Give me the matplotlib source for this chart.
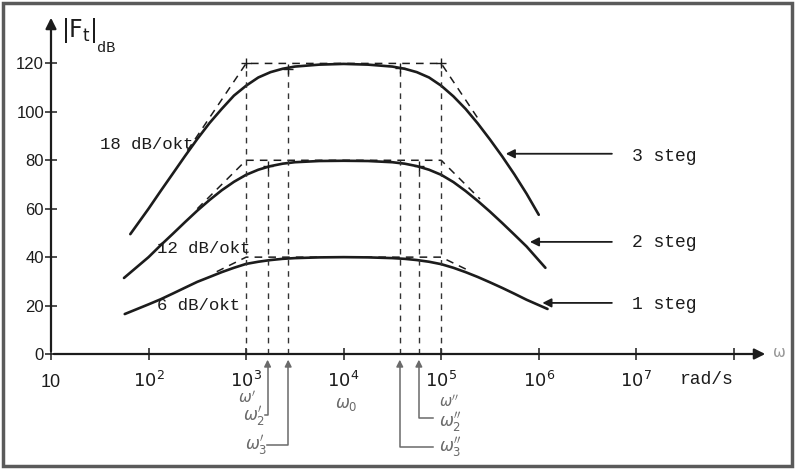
import matplotlib
matplotlib.use("Agg")
import matplotlib.pyplot as plt
from matplotlib.patches import Rectangle
from matplotlib.ticker import NullLocator

plt.rcParams['mathtext.fontset'] = 'dejavusans'

# --- data (omega in rad/s, |F_t| in dB) ---
w_mid = [100, 133, 178, 237, 316, 422, 562, 750, 1000, 1334, 1780, 2371, 3160, 5620, 1e4,
         1.78e4, 3.16e4, 4.217e4, 5.62e4, 7.5e4, 1e5, 1.334e5, 1.78e5, 2.371e5, 3.16e5,
         4.22e5, 5.62e5, 7.5e5]
w3 = [65] + w_mid + [1e6]
db3 = [49.5, 60, 67.3, 74.6, 81.8, 88.8, 95.4, 101.2, 106.7, 110.8, 114.2, 116.4, 117.8, 118.7,
       119.5, 119.8, 119.5, 118.7, 117.8, 116.4, 114.2, 110.8, 106.4, 101.2, 95.2, 88.6, 81.6,
       74.2, 66.2, 57.5]
w2 = [56] + w_mid + [1.17e6]
db2 = [31.4, 40, 44.9, 49.7, 54.5, 59.2, 63.6, 67.6, 71.1, 74, 76.1, 77.6, 78.6, 79.2, 79.7,
       79.8, 79.7, 79.2, 78.6, 77.6, 76.1, 74, 71, 67.3, 63.2, 58.8, 54.1, 49.3, 44.4, 35.6]
w1 = [57] + w_mid + [1.23e6]
db1 = [16.5, 20.5, 22.6, 25, 27.4, 29.8, 31.8, 33.8, 35.6, 37.2, 38.1, 38.8, 39.3, 39.6, 39.9,
       40, 39.9, 39.6, 39.3, 38.8, 38.1, 37.1, 35.6, 33.8, 31.8, 29.6, 27.3, 24.9, 22.4, 18.6]

# asymptotes (dashed)
asy_w3 = [250, 1e3, 1e5, 2.5e5]
asy_db3 = [84, 120, 120, 96]
asy_w2 = [316, 1e3, 1e5, 2.5e5]
asy_db2 = [60, 80, 80, 64]
asy_w1 = [500, 1e3, 1e5, 1.8e5]
asy_db1 = [34, 40, 40, 35]

# vertical dashed guides: omega', omega'_2, omega'_3, omega''_3, omega''_2, omega''
guide_w = [1e3, 1660, 2700, 3.76e4, 5.9e4, 1e5]
guide_top = [120, 77.5, 117.5, 118, 77.5, 120]

x_ticks = [10, 1e2, 1e3, 1e4, 1e5, 1e6, 1e7, 1e8]
x_labels = ['10', '$10^{2}$', '$10^{3}$', '$10^{4}$', '$10^{5}$', '$10^{6}$', '$10^{7}$', '']
y_ticks = [0, 20, 40, 60, 80, 100, 120]

slope_labels = ['18 dB/okt', '12 dB/okt', '6 dB/okt']
slope_pos = [(32, 86.5), (122, 43.5), (122, 20)]

steg_labels = ['3 steg', '2 steg', '1 steg']
steg_y = [81.5, 46, 20.5]
steg_head_w = [4.3e5, 7.6e5, 1.02e6]
steg_head_db = [82.7, 46.3, 21.1]

INK = '#1c1c1c'
GREY = '#6a6a6a'

fig = plt.figure(figsize=(8, 4.69), dpi=100, facecolor='white')
ax = fig.add_axes([51 / 800, 115 / 469, 717 / 800, 339 / 469])
ax.set_xscale('log')
ax.set_xlim(10, 10 ** 8.35)
ax.set_ylim(0, 140)
for s in ax.spines.values():
    s.set_visible(False)

# axes with arrows
ax.annotate('', xy=(1, 0), xytext=(0, 0), xycoords='axes fraction',
            arrowprops=dict(arrowstyle='-|>', color=INK, lw=1.6, mutation_scale=16))
ax.annotate('', xy=(0, 1), xytext=(0, 0), xycoords='axes fraction',
            arrowprops=dict(arrowstyle='-|>', color=INK, lw=1.6, mutation_scale=16))

ax.set_xticks(x_ticks)
ax.set_xticklabels([''] * len(x_ticks))
ax.xaxis.set_minor_locator(NullLocator())
ax.set_yticks(y_ticks)
ax.set_yticklabels([str(v) for v in y_ticks], fontsize=12, family='Liberation Sans', color=INK)
ax.tick_params(direction='inout', length=8, width=1.1, color=INK, pad=1)

# x tick labels drawn by hand (baseline aligned like the typed originals)
for w, lab in zip(x_ticks, x_labels):
    if lab:
        ax.text(w, -13.5, lab, ha='center', va='baseline', fontsize=13,
                family='Liberation Sans', color=INK, clip_on=False)

# curves
for w, db in [(w3, db3), (w2, db2), (w1, db1)]:
    ax.plot(w, db, color=INK, lw=1.9, solid_capstyle='round', solid_joinstyle='round')
for w, db in [(asy_w3, asy_db3), (asy_w2, asy_db2), (asy_w1, asy_db1)]:
    ax.plot(w, db, color=INK, lw=1.1, dashes=(5, 4))
for w, top in zip(guide_w, guide_top):
    ax.plot([w, w], [0, top], color='#333333', lw=1.0, dashes=(4, 4))
    ax.plot([w], [top], marker='+', ms=7, mew=1.0, color=INK)

# slope labels
for lab, (w, db) in zip(slope_labels, slope_pos):
    ax.text(w, db, lab, ha='left', va='center', fontsize=12.5, family='Liberation Mono', color=INK)

# stage labels with arrows
for lab, y, hw, hdb in zip(steg_labels, steg_y, steg_head_w, steg_head_db):
    ax.text(9.1e6, y, lab, ha='left', va='center', fontsize=13, family='Liberation Mono', color=INK)
    ax.annotate('', xy=(hw, hdb), xytext=(6.0e6, hdb),
                arrowprops=dict(arrowstyle='-|>', color=INK, lw=1.3, mutation_scale=13))

# axis titles
fig.text(61 / 800, 1 - 30 / 469, '|F$_{\\mathrm{t}}$|', fontsize=17, family='DejaVu Sans',
         color=INK, va='center')
fig.text(97 / 800, 1 - 48 / 469, 'dB', fontsize=11, family='Liberation Mono', color=INK, va='center')
ax.text(10 ** 7.72, -10.5, 'rad/s', ha='center', va='center', fontsize=13,
        family='Liberation Mono', color=INK, clip_on=False)
ax.text(10 ** 8.47, 0.5, '\u03c9', ha='center', va='center', fontsize=11, color='#999999', clip_on=False)

# frequency markers below the axis
mk = dict(color=GREY, lw=1.1, clip_on=False)
arr = dict(arrowstyle='-|>', color=GREY, lw=1.1, mutation_scale=10)
ax.text(1020, -18.0, "$\\omega'$", ha='center', va='center', fontsize=11, color=GREY, clip_on=False)
ax.text(1.2e5, -19.5, "$\\omega''$", ha='center', va='center', fontsize=10.5, color=GREY, clip_on=False)
ax.text(10 ** 4.03, -20.5, '$\\omega_{0}$', ha='center', va='center', fontsize=12, color=GREY, clip_on=False)

ax.text(1560, -25.5, "$\\omega_{2}'$", ha='right', va='center', fontsize=12, color=GREY, clip_on=False)
ax.plot([1580, 1660, 1660], [-25, -25, -5], **mk)
ax.annotate('', xy=(1660, -1.2), xytext=(1660, -6), arrowprops=arr, annotation_clip=False)

ax.text(1640, -37.6, "$\\omega_{3}'$", ha='right', va='center', fontsize=12, color=GREY, clip_on=False)
ax.plot([1650, 2700, 2700], [-37.6, -37.6, -5], **mk)
ax.annotate('', xy=(2700, -1.2), xytext=(2700, -6), arrowprops=arr, annotation_clip=False)

ax.plot([5.9e4, 5.9e4, 8.3e4], [-5, -26.5, -26.5], **mk)
ax.annotate('', xy=(5.9e4, -1.2), xytext=(5.9e4, -6), arrowprops=arr, annotation_clip=False)
ax.text(9.6e4, -28.0, "$\\omega_{2}''$", ha='left', va='center', fontsize=12, color=GREY, clip_on=False)

ax.plot([3.76e4, 3.76e4, 8.3e4], [-5, -38.5, -38.5], **mk)
ax.annotate('', xy=(3.76e4, -1.2), xytext=(3.76e4, -6), arrowprops=arr, annotation_clip=False)
ax.text(9.6e4, -38.5, "$\\omega_{3}''$", ha='left', va='center', fontsize=12, color=GREY, clip_on=False)

# scan border
fig.patches.append(Rectangle((3 / 800, 3 / 469), 789 / 800, 463 / 469, transform=fig.transFigure,
                             fill=False, edgecolor='#5a5a5a', lw=2.5))

fig.savefig('out.png', dpi=100, facecolor='white')
